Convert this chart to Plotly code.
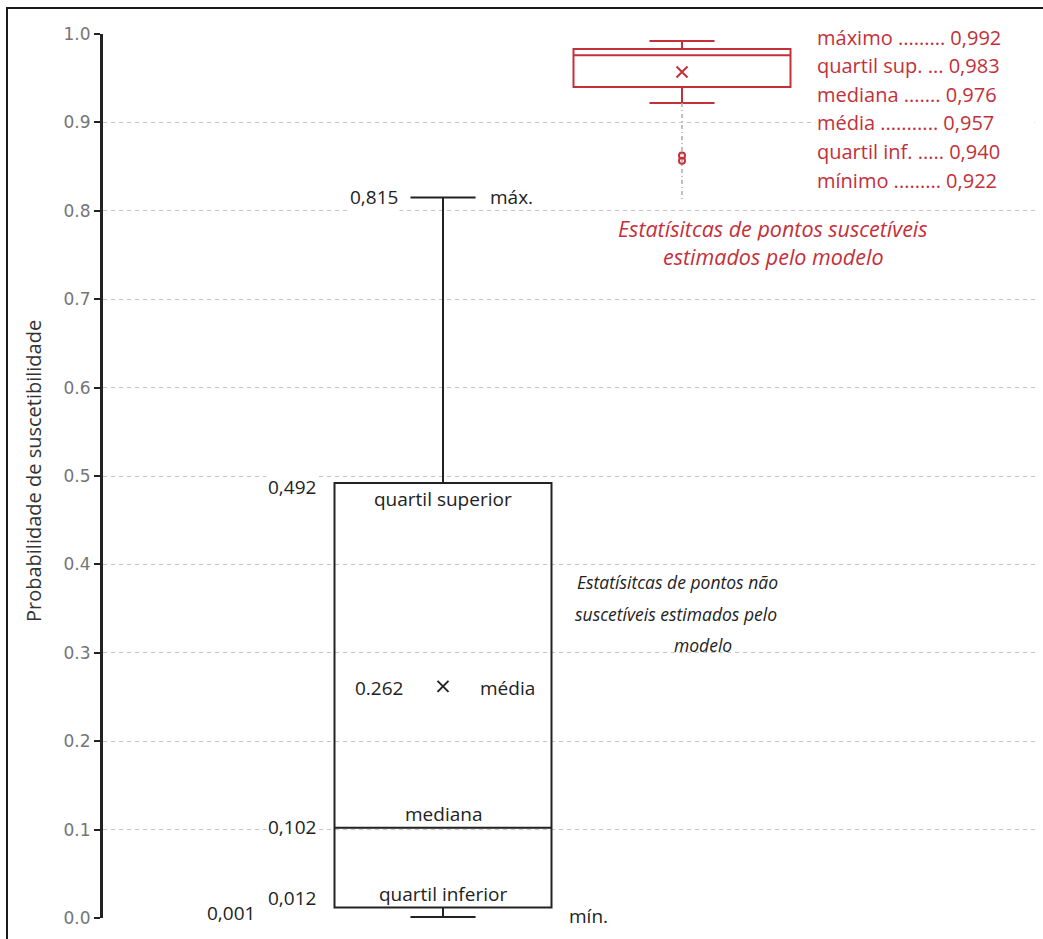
import plotly.graph_objects as go

# ---- data ----
y_ticks = [0.0, 0.1, 0.2, 0.3, 0.4, 0.5, 0.6, 0.7, 0.8, 0.9, 1.0]

ns_min, ns_q1, ns_med, ns_q3, ns_max, ns_mean = 0.001, 0.012, 0.102, 0.492, 0.815, 0.262
s_min, s_q1, s_med, s_q3, s_max, s_mean = 0.922, 0.940, 0.976, 0.983, 0.992, 0.957
s_outliers = [0.8625, 0.8565]
s_tail = [0.922, 0.811]

red_lines = ["máximo ......... 0,992", "quartil sup. ... 0,983", "mediana ....... 0,976",
             "média ........... 0,957", "quartil inf. ..... 0,940", "mínimo ......... 0,922"]

BLACK = "#222222"
RED = "#c3303a"
FONT = "Open Sans"

# layout geometry (pixels)
W, H = 1043, 939
L, R, T, B = 103, 8, 34, 21
X0_PX, X1_PX = 443, 682
UNIT = X1_PX - X0_PX
plot_w = W - L - R
plot_h = H - T - B

def ux(px):
    return (px - X0_PX) / UNIT

def vy(px):
    return (H - B - px) / plot_h

box_w = 217 / UNIT

fig = go.Figure()

fig.add_trace(go.Box(
    x=[0], q1=[ns_q1], median=[ns_med], q3=[ns_q3],
    lowerfence=[ns_min], upperfence=[ns_max],
    width=box_w, whiskerwidth=0.3, boxpoints=False,
    line=dict(color=BLACK, width=2), fillcolor="rgba(0,0,0,0)",
    showlegend=False, hoverinfo="skip"))

fig.add_trace(go.Scatter(
    x=[1, 1], y=s_tail, mode="lines",
    line=dict(color="#aaaaaa", width=1.5, dash="4px,3px,1px,3px"),
    showlegend=False, hoverinfo="skip"))

fig.add_trace(go.Box(
    x=[1], q1=[s_q1], median=[s_med], q3=[s_q3],
    lowerfence=[s_min], upperfence=[s_max],
    width=box_w, whiskerwidth=0.3, boxpoints=False,
    line=dict(color=RED, width=2), fillcolor="rgba(255,255,255,1)",
    showlegend=False, hoverinfo="skip"))

fig.add_trace(go.Scatter(
    x=[1] * len(s_outliers), y=s_outliers, mode="markers",
    marker=dict(symbol="circle-open", size=6, color=RED, line=dict(width=2, color=RED)),
    showlegend=False, hoverinfo="skip"))

fig.add_trace(go.Scatter(
    x=[0, 1], y=[ns_mean, s_mean], mode="markers",
    marker=dict(symbol="x-thin", size=11, line=dict(width=2, color=[BLACK, RED]), color=[BLACK, RED]),
    showlegend=False, hoverinfo="skip"))

ann = []

def label(text, x, y, xanchor="center", yanchor="middle", xshift=0, yshift=0,
          color=BLACK, size=19, italic=False, bg=None, width=None):
    d = dict(text=(f"<i>{text}</i>" if italic else text), x=x, y=y, xref="x", yref="y",
             xanchor=xanchor, yanchor=yanchor, xshift=xshift, yshift=yshift, showarrow=False,
             font=dict(family=FONT, size=size, color=color))
    if bg:
        d["bgcolor"] = bg
        d["borderpad"] = 1
    if width:
        d["width"] = width
        d["align"] = "left"
    ann.append(d)

label("0,815", 0, ns_max, xanchor="right", xshift=-43, yshift=1, bg="white")
label("máx.", 0, ns_max, xanchor="left", xshift=45, yshift=1)
label("0,492", 0, ns_q3, xanchor="right", xshift=-125, yshift=-4, bg="white")
label("quartil superior", 0, ns_q3, yanchor="top", yshift=-1)
label("0,102", 0, ns_med, xanchor="right", xshift=-125, yshift=1, bg="white")
label("mediana", 0, ns_med, yanchor="bottom", yshift=-1)
label("0,012", 0, ns_q1, xanchor="right", xshift=-125, yshift=9)
label("quartil inferior", 0, ns_q1, yanchor="bottom", yshift=-2)
label("0,001", 0, ns_min, xanchor="right", xshift=-186, yshift=4, bg="white")
label("mín.", 0, ns_min, xanchor="left", xshift=124, yshift=1, bg="white")
label("0.262", 0, ns_mean, xanchor="right", xshift=-38, yshift=-2)
label("média", 0, ns_mean, xanchor="left", xshift=35, yshift=-2)

black_note = ["Estatísitcas de pontos não", "suscetíveis estimados pelo", "modelo"]
for txt, px, cx in zip(black_note, [582, 614, 645], [677, 676, 703]):
    label(txt, ux(cx), vy(px), italic=True, size=17.5)

for i, txt in enumerate(red_lines):
    label(txt, ux(815), vy(37 + 28.6 * i), xanchor="left", color=RED, size=20, bg="white",
          width=W - R - 815 - 4)

red_note = ["Estatísitcas de pontos suscetíveis", "estimados pelo modelo"]
for txt, px in zip(red_note, [228, 256]):
    label(txt, ux(773), vy(px), italic=True, color=RED, size=21.5, bg="white")

ann.append(dict(text="Probabilidade de suscetibilidade", x=(33 - L) / plot_w, y=vy(471),
                xref="paper", yref="y", textangle=-90, showarrow=False,
                xanchor="center", yanchor="middle",
                font=dict(family=FONT, size=20, color="#333333")))

fig.update_layout(
    width=W, height=H,
    margin=dict(l=L, r=R, t=T, b=B, autoexpand=False),
    paper_bgcolor="white", plot_bgcolor="white",
    annotations=ann,
    shapes=[dict(type="rect", xref="paper", yref="paper",
                 x0=(7 - L) / plot_w, x1=(W + 5 - L) / plot_w,
                 y0=-(B + 10) / plot_h, y1=1 + (T - 8) / plot_h,
                 line=dict(color="#1a1a1a", width=2), layer="above")],
    xaxis=dict(range=[ux(L), ux(W - R)], visible=False, showgrid=False, zeroline=False),
    yaxis=dict(range=[0, 1], tickvals=y_ticks, tickformat=".1f",
               showline=True, linecolor=BLACK, linewidth=3,
               ticks="outside", ticklen=6, tickwidth=2, tickcolor=BLACK,
               tickfont=dict(family="DejaVu Sans", size=17, color="#757575"),
               showgrid=True, gridcolor="#c4c4c4", gridwidth=1, griddash="4px,4px",
               zeroline=False),
)

fig.write_html("out.html", config={"displayModeBar": False},
               post_script="document.body.style.margin='0px';document.body.style.overflow='hidden';")
